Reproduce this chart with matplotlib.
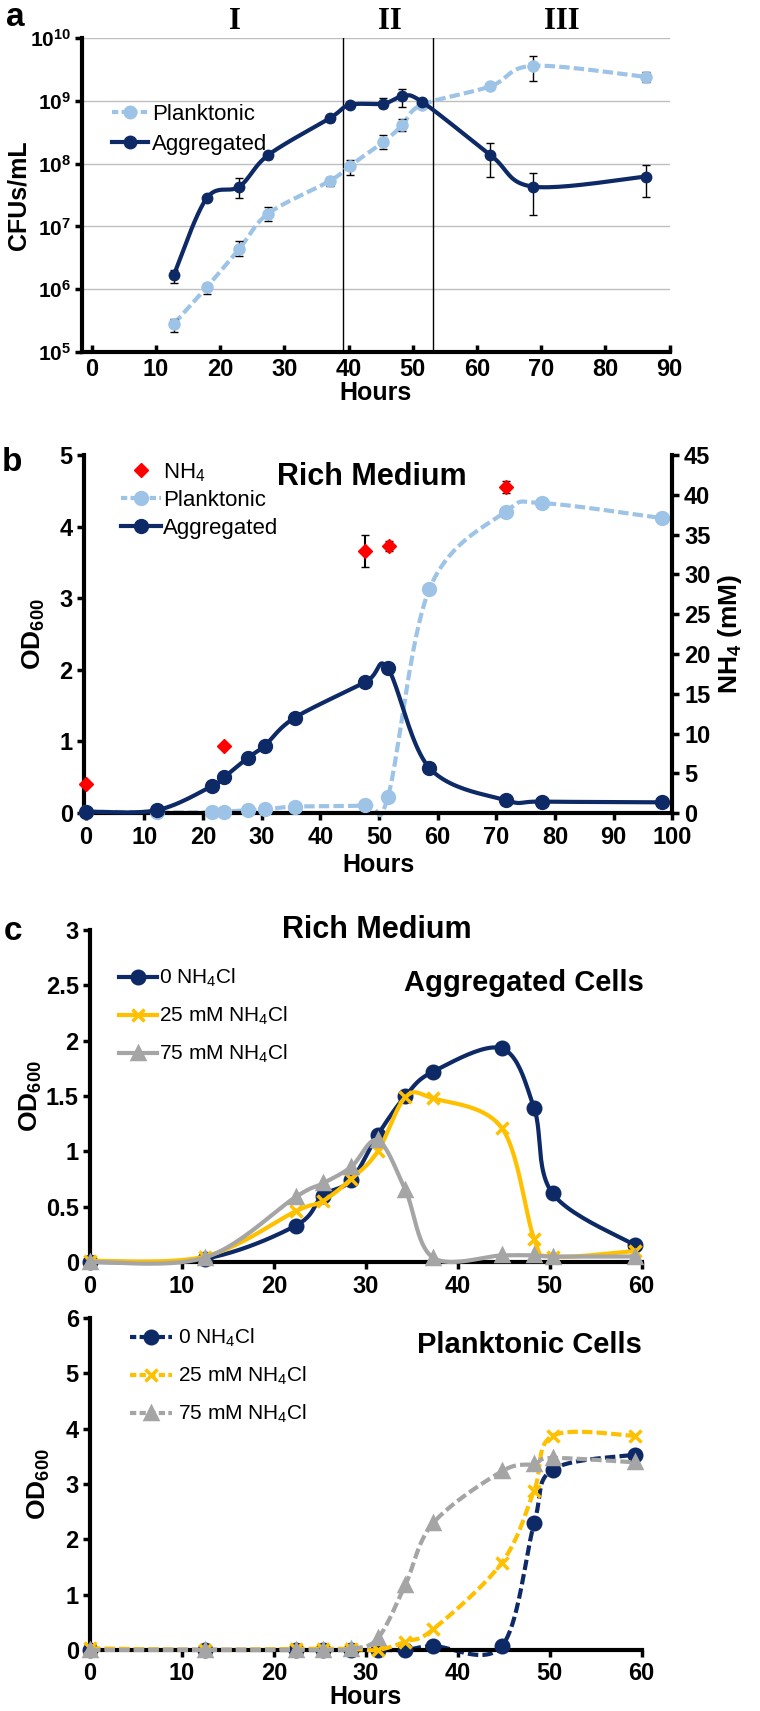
import numpy as np
import matplotlib
matplotlib.use('Agg')
import matplotlib.pyplot as plt
from matplotlib import font_manager
from matplotlib.lines import Line2D
import matplotlib.transforms as mtransforms

# ---- data: panel a (CFUs/mL) ----
a_hours = [12.8, 17.9, 23.0, 27.5, 37.1, 40.2, 45.4, 48.4, 51.4, 62.1, 68.7, 86.3]
a_aggr = [1.7e6, 2.8e7, 4.3e7, 1.37e8, 5.3e8, 8.6e8, 9.0e8, 1.17e9, 9.7e8, 1.37e8, 4.3e7, 6.2e7]
a_aggr_lo = [1.27e6, 2.5e7, 2.8e7, 1.2e8, 4.6e8, 7.6e8, 7.6e8, 8.1e8, 9.0e8, 6.2e7, 1.5e7, 2.9e7]
a_aggr_hi = [2.0e6, 3.2e7, 5.9e7, 1.55e8, 6.0e8, 9.6e8, 1.1e9, 1.55e9, 1.05e9, 2.1e8, 7.1e7, 9.5e7]
a_plank = [2.8e5, 1.07e6, 4.4e6, 1.6e7, 5.3e7, 9.2e7, 2.2e8, 4.1e8, 8.6e8, 1.7e9, 3.6e9, 2.4e9]
a_plank_lo = [2.1e5, 8.5e5, 3.4e6, 1.23e7, 4.4e7, 6.6e7, 1.7e8, 3.3e8, 8.6e8, 1.6e9, 2.1e9, 2.0e9]
a_plank_hi = [3.4e5, 1.23e6, 5.9e6, 2.0e7, 6.2e7, 1.12e8, 2.9e8, 5.2e8, 8.6e8, 1.8e9, 5.1e9, 2.9e9]
phase_lines = [39.2, 53.1]
phase_names = ['I', 'II', 'III']
phase_pos = [22.3, 46.4, 73.2]

# ---- data: panel b (OD600, NH4) ----
b_hours = [0, 12.1, 21.6, 23.6, 27.6, 30.5, 35.6, 47.7, 51.5, 58.6, 71.6, 77.8, 98.3]
b_aggr = [0.02, 0.04, 0.38, 0.50, 0.77, 0.94, 1.33, 1.83, 2.02, 0.63, 0.18, 0.16, 0.15]
b_plank = [0.02, 0.01, 0.01, 0.02, 0.04, 0.05, 0.09, 0.11, 0.22, 3.13, 4.21, 4.33, 4.12]
nh4_hours = [0, 23.5, 47.7, 51.7, 71.6]
nh4_mm = [3.6, 8.4, 32.9, 33.6, 41.0]
nh4_err = [0, 0, 2.0, 0.6, 0.7]

# ---- data: panel c (OD600 with added NH4Cl) ----
c_hours = [0, 12.5, 22.4, 25.3, 28.4, 31.3, 34.3, 37.3, 44.8, 48.3, 50.3, 59.3]
c_labels = ['0 NH$_4$Cl', '25 mM NH$_4$Cl', '75 mM NH$_4$Cl']
c_aggr_0 = [0.0, 0.03, 0.33, 0.60, 0.74, 1.15, 1.50, 1.72, 1.93, 1.39, 0.62, 0.15]
c_aggr_25 = [0.01, 0.05, 0.46, 0.55, 0.75, 1.0, 1.49, 1.48, 1.21, 0.21, 0.05, 0.10]
c_aggr_75 = [0.0, 0.04, 0.59, 0.71, 0.86, 1.10, 0.65, 0.04, 0.06, 0.06, 0.05, 0.05]
c_plank_0 = [0.0, 0.0, 0.0, 0.0, 0.0, 0.0, 0.0, 0.07, 0.07, 2.29, 3.26, 3.53]
c_plank_25 = [0.03, 0.0, 0.02, 0.02, 0.02, 0.0, 0.15, 0.37, 1.58, 2.88, 3.87, 3.87]
c_plank_75 = [0.0, 0.0, 0.0, 0.0, 0.02, 0.21, 1.18, 2.29, 3.23, 3.36, 3.47, 3.39]

NAVY = '#0E2A66'
LBLUE = '#9DC3E6'
GOLD = '#FFC000'
GREY = '#A5A5A5'
RED = '#FF0000'

names = {f.name for f in font_manager.fontManager.ttflist}
NARROW = 'Liberation Sans Narrow' if 'Liberation Sans Narrow' in names else 'Liberation Sans'
plt.rcParams['font.family'] = [NARROW, 'DejaVu Sans']
plt.rcParams['mathtext.default'] = 'regular'
WIDE = ['Liberation Sans', 'DejaVu Sans']


def smooth(x, y, n=25):
    # excel-style smoothed line through the points
    x = np.asarray(x, float)
    y = np.asarray(y, float)
    px = np.r_[x[0], x, x[-1]]
    py = np.r_[y[0], y, y[-1]]
    t = np.linspace(0, 1, n)[:, None]
    out = []
    for i in range(1, len(px) - 2):
        p0 = np.array([px[i - 1], py[i - 1]])
        p1 = np.array([px[i], py[i]])
        p2 = np.array([px[i + 1], py[i + 1]])
        p3 = np.array([px[i + 2], py[i + 2]])
        b1 = p1 + (p2 - p0) / 6
        b2 = p2 - (p3 - p1) / 6
        seg = (1 - t) ** 3 * p1 + 3 * (1 - t) ** 2 * t * b1 + 3 * (1 - t) * t ** 2 * b2 + t ** 3 * p2
        out.append(seg)
    out = np.vstack(out)
    return out[:, 0], out[:, 1]


def style_axes(ax, xdir='out', ysize=17):
    for s in ['top', 'right']:
        ax.spines[s].set_visible(False)
    for s in ['left', 'bottom']:
        ax.spines[s].set_linewidth(3)
    ax.tick_params(axis='y', direction='out', length=5, width=2.5, labelsize=ysize, pad=3)
    ax.tick_params(axis='x', direction=xdir, length=5, width=2.5, labelsize=17, pad=4)
    for lab in ax.get_xticklabels() + ax.get_yticklabels():
        lab.set_fontweight('bold')


fig = plt.figure(figsize=(7.6, 17.11), dpi=100)

# ---------------- panel a ----------------
ax = fig.add_axes([0.108, 0.7943, 0.773, 0.1835])
ax.set_yscale('log')
ax.set_ylim(1e5, 1e10)
ax.set_xlim(-1.5, 90)
ax.set_yticks([1e5, 1e6, 1e7, 1e8, 1e9, 1e10])
ax.set_yticklabels(['10$^{%d}$' % k for k in range(5, 11)])
ax.set_xticks(range(0, 91, 10))
ax.minorticks_off()
ax.yaxis.grid(True, color='#BFBFBF', lw=1)
ax.set_axisbelow(True)
for xv in phase_lines:
    ax.axvline(xv, color='black', lw=1, zorder=1)

sx, sy = smooth(a_hours, np.log10(a_plank))
ax.plot(sx, 10 ** sy, color=LBLUE, lw=3, ls=(0, (2.5, 1)), zorder=2)
ax.errorbar(a_hours, a_plank, yerr=[np.subtract(a_plank, a_plank_lo), np.subtract(a_plank_hi, a_plank)],
            fmt='o', color=LBLUE, ms=8, ecolor='black', elinewidth=1, capsize=3, zorder=3)
sx, sy = smooth(a_hours, np.log10(a_aggr))
ax.plot(sx, 10 ** sy, color=NAVY, lw=3, zorder=4)
ax.errorbar(a_hours, a_aggr, yerr=[np.subtract(a_aggr, a_aggr_lo), np.subtract(a_aggr_hi, a_aggr)],
            fmt='o', color=NAVY, ms=7.5, ecolor='black', elinewidth=1, capsize=3, zorder=5)
style_axes(ax, xdir='in', ysize=15)
ax.set_xlabel('Hours', fontsize=18, fontweight='bold', labelpad=0)
ax.set_ylabel('CFUs/mL', fontsize=18, fontweight='bold', family=WIDE)
ax.yaxis.set_label_coords(-0.087, 0.5)
trans = mtransforms.blended_transform_factory(ax.transData, ax.transAxes)
for name, xp in zip(phase_names, phase_pos):
    ax.text(xp, 1.052, name, transform=trans, ha='center', va='center', fontsize=22,
            fontweight='bold', family=['Liberation Serif', 'DejaVu Serif'])
hands = [Line2D([], [], color=LBLUE, lw=3, ls=(0, (1.5, 0.8)), marker='o', ms=9),
         Line2D([], [], color=NAVY, lw=3, marker='o', ms=9)]
ax.legend(hands, ['Planktonic', 'Aggregated'], loc='upper left', bbox_to_anchor=(112 / 760, 1 - 104 / 1711),
          bbox_transform=fig.transFigure, frameon=False, fontsize=16, handlelength=1.6, handletextpad=0.2,
          labelspacing=0.4, borderpad=0, borderaxespad=0)
fig.text(15 / 760, 1 - 18 / 1711, 'a', fontsize=24, fontweight='bold', family=WIDE, ha='center', va='center')

# ---------------- panel b ----------------
ax = fig.add_axes([0.1105, 0.5248, 0.774, 0.2092])
ax.set_xlim(-0.3, 100)
ax.set_ylim(0, 5)
ax.set_xticks(range(0, 101, 10))
ax.set_yticks(range(0, 6))
sx, sy = smooth(b_hours, b_plank)
ax.plot(sx, sy, color=LBLUE, lw=3, ls=(0, (2.5, 1)), zorder=2, clip_on=False)
ax.plot(b_hours, b_plank, 'o', color=LBLUE, ms=10, zorder=3, clip_on=False)
sx, sy = smooth(b_hours, b_aggr)
ax.plot(sx, sy, color=NAVY, lw=3, zorder=4, clip_on=False)
ax.plot(b_hours, b_aggr, 'o', color=NAVY, ms=10, zorder=5, clip_on=False)
style_axes(ax)
ax.set_xlabel('Hours', fontsize=18, fontweight='bold', labelpad=3)
ax.set_ylabel('OD$_{600}$', fontsize=19, fontweight='bold', family=WIDE)
ax.yaxis.set_label_coords(-0.063, 0.5)
ax.text(0.49, 0.94, 'Rich Medium', transform=ax.transAxes, ha='center', va='center', fontsize=22,
        fontweight='bold')
ax2 = ax.twinx()
ax2.set_ylim(0, 45)
ax2.set_yticks(range(0, 46, 5))
ax2.errorbar(nh4_hours, nh4_mm, yerr=nh4_err, fmt='D', color=RED, ms=7, ecolor='black',
             elinewidth=1.5, capsize=3, zorder=6, clip_on=False)
for s in ['top', 'left', 'bottom']:
    ax2.spines[s].set_visible(False)
ax2.spines['right'].set_linewidth(3)
ax2.tick_params(axis='y', direction='out', length=5, width=2.5, labelsize=17)
for lab in ax2.get_yticklabels():
    lab.set_fontweight('bold')
ax2.set_ylabel('NH$_4$ (mM)', fontsize=19, fontweight='bold', family=WIDE, labelpad=4)
hands = [Line2D([], [], color=RED, ls='none', marker='D', ms=7),
         Line2D([], [], color=LBLUE, lw=3, ls=(0, (1.5, 0.8)), marker='o', ms=10),
         Line2D([], [], color=NAVY, lw=3, marker='o', ms=10)]
ax2.legend(hands, ['NH$_4$', 'Planktonic', 'Aggregated'], loc='upper left',
           bbox_to_anchor=(121 / 760, 1 - 461 / 1711), bbox_transform=fig.transFigure, frameon=False,
           fontsize=16, handlelength=1.8, handletextpad=0.1, labelspacing=0.3, borderpad=0, borderaxespad=0)
fig.text(12 / 760, 1 - 462 / 1711, 'b', fontsize=24, fontweight='bold', family=WIDE, ha='center', va='center')

# ---------------- panel c (top) ----------------
markers = ['o', 'x', '^']
colors = [NAVY, GOLD, GREY]
ax = fig.add_axes([0.1184, 0.2624, 0.726, 0.194])
ax.set_xlim(0, 60)
ax.set_ylim(0, 3)
ax.set_xticks(range(0, 61, 10))
ax.set_yticks(np.arange(0, 3.01, 0.5))
ax.set_yticklabels(['%g' % v for v in np.arange(0, 3.01, 0.5)])
for k, ys in enumerate([c_aggr_0, c_aggr_25, c_aggr_75]):
    sx, sy = smooth(c_hours, ys)
    ax.plot(sx, sy, color=colors[k], lw=3, zorder=2 + 2 * k, clip_on=False)
    ax.plot(c_hours, ys, markers[k], color=colors[k], ms=9, mew=2.5, zorder=3 + 2 * k, clip_on=False)
style_axes(ax)
ax.set_ylabel('OD$_{600}$', fontsize=19, fontweight='bold', family=WIDE)
ax.yaxis.set_label_coords(-0.083, 0.5)
ax.text(0.52, 1.0, 'Rich Medium', transform=ax.transAxes, ha='center', va='center', fontsize=22,
        fontweight='bold')
ax.text(0.786, 0.84, 'Aggregated Cells', transform=ax.transAxes, ha='center', va='center', fontsize=21,
        fontweight='bold')
hands = [Line2D([], [], color=colors[k], lw=3, marker=markers[k], ms=9, mew=2.5) for k in range(3)]
ax.legend(hands, c_labels, loc='upper left', bbox_to_anchor=(119 / 760, 1 - 967 / 1711),
          bbox_transform=fig.transFigure, frameon=False, fontsize=15, handlelength=1.8,
          handletextpad=0.1, labelspacing=0.75, borderpad=0, borderaxespad=0)
fig.text(13 / 760, 1 - 932 / 1711, 'c', fontsize=24, fontweight='bold', family=WIDE, ha='center', va='center')

# ---------------- panel c (bottom) ----------------
ax = fig.add_axes([0.1184, 0.0357, 0.726, 0.194])
ax.set_xlim(0, 60)
ax.set_ylim(0, 6)
ax.set_xticks(range(0, 61, 10))
ax.set_yticks(range(0, 7))
for k, ys in enumerate([c_plank_0, c_plank_25, c_plank_75]):
    sx, sy = smooth(c_hours, ys)
    ax.plot(sx, sy, color=colors[k], lw=3, ls=(0, (2.5, 1)), zorder=2 + 2 * k, clip_on=False)
    ax.plot(c_hours, ys, markers[k], color=colors[k], ms=9, mew=2.5, zorder=3 + 2 * k, clip_on=False)
style_axes(ax)
ax.set_xlabel('Hours', fontsize=18, fontweight='bold', labelpad=0)
ax.set_ylabel('OD$_{600}$', fontsize=19, fontweight='bold', family=WIDE)
ax.yaxis.set_label_coords(-0.069, 0.5)
ax.text(0.797, 0.92, 'Planktonic Cells', transform=ax.transAxes, ha='center', va='center', fontsize=21,
        fontweight='bold')
hands = [Line2D([], [], color=colors[k], lw=3, ls=(0, (1.5, 0.8)), marker=markers[k], ms=9, mew=2.5)
         for k in range(3)]
ax.legend(hands, c_labels, loc='upper left', bbox_to_anchor=(130 / 760, 1 - 1327 / 1711),
          bbox_transform=fig.transFigure, frameon=False, fontsize=15, handlelength=2.0,
          handletextpad=0.3, labelspacing=0.75, borderpad=0, borderaxespad=0)

fig.savefig('out.png', dpi=100)
